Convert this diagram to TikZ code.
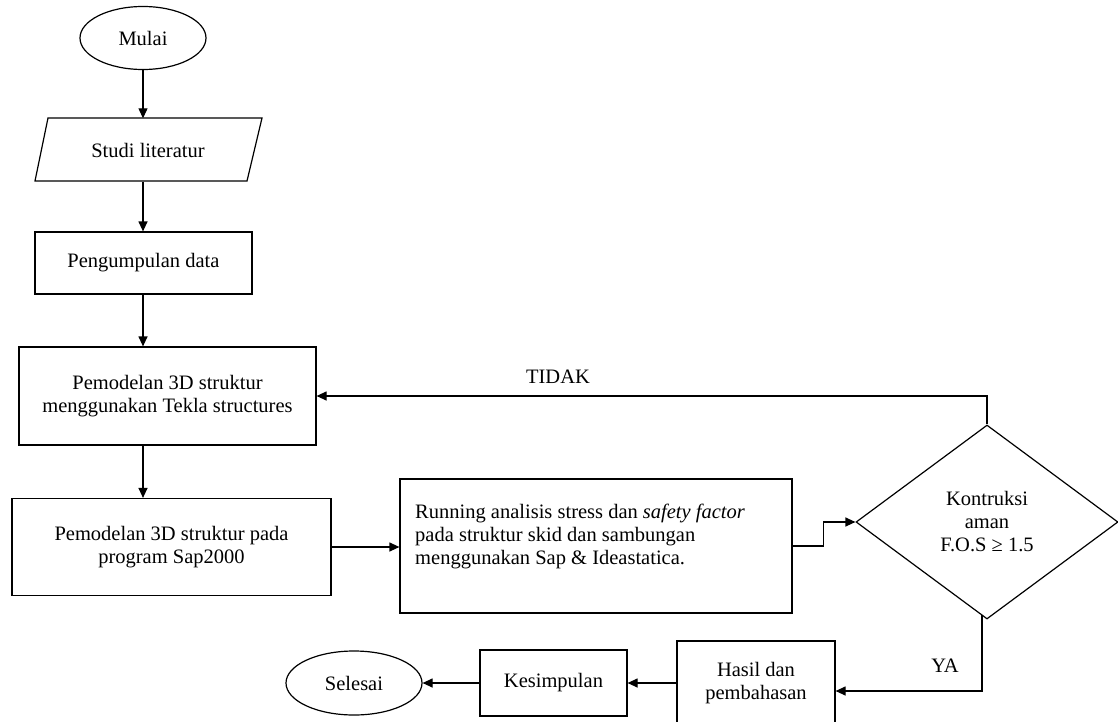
\documentclass[tikz,border=0pt]{standalone}
\usepackage{fontspec}
\setmainfont{Liberation Serif}
\usetikzlibrary{shapes.geometric,arrows.meta,calc}
\begin{document}
\begin{tikzpicture}[x=1pt,y=-1pt,
  every node/.style={font=\fontsize{20.5}{23}\selectfont, inner sep=0pt},
  box/.style={draw, line width=1.2pt, rectangle},
  oval/.style={draw, line width=1.2pt, ellipse},
  arr/.style={line width=1.2pt, -{Triangle[length=10pt,width=9pt]}},
  ln/.style={line width=1.2pt}]
\useasboundingbox (0,0) rectangle (1118,722);
\node[oval, minimum width=126pt, minimum height=63pt] (mulai) at (143,38) {Mulai};
\node[minimum width=214pt, minimum height=63pt] (studi) at (148,150) {Studi literatur};
\draw[ln] (48,118) -- (262,118) -- (247,181) -- (35,181) -- cycle;
\node[box, minimum width=217pt, minimum height=62pt] (peng) at (143.5,263) {Pengumpulan data};
\node[box, minimum width=297pt, minimum height=98pt, align=center] (tekla) at (167.5,396) {Pemodelan 3D struktur\\menggunakan Tekla structures};
\node[box, minimum width=319pt, minimum height=97pt, align=center] (sap) at (171.5,547) {Pemodelan 3D struktur pada\\program Sap2000};
\node[box, minimum width=392pt, minimum height=134pt] (run) at (596,546) {};
\node[anchor=west, align=left] (runtxt) at (415,536) {Running analisis stress dan \textit{safety factor}\\pada struktur skid dan sambungan\\menggunakan Sap \& Ideastatica.};
\node[draw, line width=1.2pt, diamond, minimum width=262pt, minimum height=194pt, align=center] (dia) at (987,522) {Kontruksi\\aman\\F.O.S ≥ 1.5};
\node[box, minimum width=158pt, minimum height=104pt] (hasil) at (756,693) {};
\node[align=center] (hasiltxt) at (756,683) {Hasil dan\\pembahasan};
\node[box, minimum width=147pt, minimum height=66pt] (kes) at (553.5,683) {Kesimpulan};
\node[oval, minimum width=136pt, minimum height=64pt] (sel) at (354,683) {Selesai};
\node (tidak) at (558,377) {TIDAK};
\node (ya) at (945,666) {YA};
\draw[arr] (mulai.south) -- (mulai.south |- studi.north);
\draw[arr] (mulai.south |- studi.south) -- (mulai.south |- peng.north);
\draw[arr] (mulai.south |- peng.south) -- (mulai.south |- tekla.north);
\draw[arr] (mulai.south |- tekla.south) -- (mulai.south |- sap.north);
\draw[arr] (sap.east) -- (sap.east -| run.west);
\draw[arr] (run.east) -- ++(31,0) |- (dia.west);
\draw[arr] (dia.north) |- (tekla.east);
\draw[arr] ([xshift=-5pt,yshift=5pt]dia.south) -- (982,691) -- (hasil.east |- 0,691);
\draw[arr] (kes.east -| hasil.west) -- (kes.east);
\draw[arr] (kes.west) -- (sel.east);
\end{tikzpicture}
\end{document}
